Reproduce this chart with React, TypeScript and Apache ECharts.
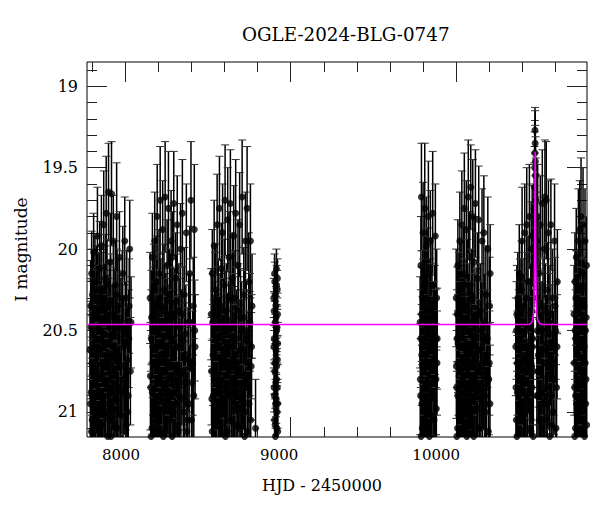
import React, { useEffect, useRef } from "react";
import * as echarts from "echarts";

// [HJD-2450000, I mag, error]
const season2017: number[][] = [
  [7788, 20.62, 0.30], [7792, 20.35, 0.28], [7795, 20.88, 0.34], [7798, 20.15, 0.26], [7801, 21.05, 0.38],
  [7804, 20.48, 0.29], [7807, 20.72, 0.31], [7810, 20.02, 0.24], [7813, 20.95, 0.36], [7816, 20.40, 0.28],
  [7819, 21.18, 0.40], [7822, 20.55, 0.30], [7826, 20.25, 0.27], [7829, 20.80, 0.33], [7833, 19.92, 0.30],
  [7836, 20.60, 0.31], [7840, 21.10, 0.39], [7843, 20.38, 0.28], [7847, 20.12, 0.29], [7850, 20.90, 0.35],
  [7854, 20.50, 0.30], [7857, 19.98, 0.31], [7861, 20.70, 0.32], [7864, 21.25, 0.42], [7868, 20.30, 0.28],
  [7871, 19.85, 0.33], [7875, 20.58, 0.30], [7878, 20.95, 0.37], [7882, 20.18, 0.27], [7886, 19.78, 0.35],
  [7889, 20.45, 0.29], [7893, 21.02, 0.38], [7896, 20.66, 0.32], [7900, 19.65, 0.30], [7904, 20.35, 0.28],
  [7907, 20.85, 0.34], [7911, 20.08, 0.30], [7915, 21.15, 0.40], [7918, 19.66, 0.32], [7922, 20.52, 0.30],
  [7926, 20.78, 0.33], [7929, 19.95, 0.28], [7933, 20.42, 0.29], [7937, 21.08, 0.38], [7941, 20.22, 0.27],
  [7945, 20.62, 0.31], [7949, 19.80, 0.33], [7953, 20.98, 0.36], [7957, 20.35, 0.29], [7961, 20.70, 0.32],
  [7966, 20.05, 0.28], [7971, 21.20, 0.41], [7976, 20.48, 0.30], [7981, 20.88, 0.34], [7986, 20.15, 0.29],
  [7992, 20.60, 0.31], [7998, 19.95, 0.27], [8004, 20.78, 0.33], [8010, 20.30, 0.29], [8016, 21.00, 0.36],
  [8022, 20.55, 0.30], [8028, 20.00, 0.30], [8036, 20.45, 0.28],
  [7790, 20.95, 0.35], [7794, 20.48, 0.30], [7797, 21.12, 0.40], [7800, 20.70, 0.32], [7803, 20.28, 0.28],
  [7806, 21.22, 0.42], [7809, 20.82, 0.34], [7812, 20.58, 0.30], [7815, 21.05, 0.38], [7818, 20.20, 0.28],
  [7821, 20.90, 0.35], [7824, 21.30, 0.44], [7828, 20.65, 0.31], [7831, 20.42, 0.29], [7835, 21.02, 0.37],
  [7838, 20.78, 0.33], [7842, 20.30, 0.28], [7845, 21.18, 0.41], [7849, 20.62, 0.31], [7852, 20.88, 0.35],
  [7856, 20.25, 0.28], [7859, 21.08, 0.39], [7863, 20.52, 0.30], [7866, 20.95, 0.36], [7870, 20.72, 0.32],
  [7873, 21.28, 0.43], [7877, 20.38, 0.29], [7880, 20.82, 0.34], [7884, 21.00, 0.37], [7888, 20.58, 0.30],
  [7891, 20.22, 0.28], [7895, 21.15, 0.40], [7898, 20.90, 0.35], [7902, 20.48, 0.30], [7906, 21.05, 0.38],
  [7909, 20.70, 0.32], [7913, 20.32, 0.29], [7917, 20.85, 0.34], [7920, 21.25, 0.42], [7924, 20.60, 0.31],
  [7928, 20.98, 0.36], [7931, 20.40, 0.29], [7935, 20.75, 0.33], [7939, 21.18, 0.41], [7943, 20.50, 0.30],
  [7947, 20.92, 0.35], [7951, 20.28, 0.28], [7955, 21.10, 0.39], [7959, 20.65, 0.31], [7963, 20.85, 0.34],
  [7968, 20.45, 0.30], [7973, 21.02, 0.37], [7978, 20.72, 0.32], [7983, 20.30, 0.29], [7988, 21.20, 0.42],
  [7995, 20.80, 0.34], [8001, 20.50, 0.30], [8007, 21.08, 0.39], [8013, 20.68, 0.32], [8019, 20.90, 0.35],
  [8025, 20.35, 0.29], [8032, 20.75, 0.33],
];

const season2018: number[][] = [
  [8151, 20.30, 0.28], [8155, 20.85, 0.35], [8158, 20.55, 0.30], [8162, 21.10, 0.40], [8165, 20.05, 0.27],
  [8169, 20.70, 0.32], [8172, 20.40, 0.29], [8176, 21.22, 0.42], [8179, 19.95, 0.30], [8183, 20.62, 0.31],
  [8187, 20.20, 0.28], [8190, 20.95, 0.36], [8194, 19.80, 0.32], [8198, 20.48, 0.30], [8201, 21.05, 0.38],
  [8205, 20.15, 0.27], [8209, 20.75, 0.33], [8212, 19.70, 0.33], [8216, 20.35, 0.29], [8220, 20.90, 0.35],
  [8223, 20.58, 0.31], [8227, 19.88, 0.30], [8231, 21.15, 0.40], [8235, 20.25, 0.28], [8238, 20.68, 0.32],
  [8242, 19.68, 0.34], [8246, 20.45, 0.30], [8250, 20.98, 0.37], [8254, 20.10, 0.28], [8258, 20.80, 0.34],
  [8262, 19.75, 0.35], [8266, 20.52, 0.30], [8270, 21.25, 0.42], [8274, 20.32, 0.29], [8278, 19.95, 0.31],
  [8282, 20.72, 0.33], [8286, 20.05, 0.28], [8290, 21.00, 0.38], [8294, 19.72, 0.32], [8298, 20.42, 0.30],
  [8302, 20.88, 0.35], [8306, 20.18, 0.28], [8310, 20.60, 0.31], [8315, 19.85, 0.30], [8320, 21.12, 0.40],
  [8325, 20.38, 0.29], [8330, 20.78, 0.33], [8335, 20.00, 0.28], [8340, 20.55, 0.30], [8346, 19.78, 0.33],
  [8352, 20.92, 0.36], [8358, 20.28, 0.29], [8364, 20.65, 0.32], [8370, 19.90, 0.30], [8377, 21.05, 0.38],
  [8384, 20.45, 0.30], [8391, 20.15, 0.29], [8398, 19.70, 0.36], [8405, 20.82, 0.34], [8412, 20.35, 0.30],
  [8418, 19.88, 0.40], [8423, 20.60, 0.32],
  [8153, 20.78, 0.33], [8157, 21.15, 0.40], [8160, 20.42, 0.29], [8164, 20.88, 0.35], [8167, 20.60, 0.31],
  [8171, 21.25, 0.42], [8174, 20.25, 0.28], [8178, 20.95, 0.36], [8181, 20.50, 0.30], [8185, 21.05, 0.38],
  [8189, 20.72, 0.32], [8192, 20.35, 0.29], [8196, 21.18, 0.41], [8200, 20.82, 0.34], [8203, 20.58, 0.30],
  [8207, 21.00, 0.37], [8211, 20.30, 0.28], [8214, 20.90, 0.35], [8218, 21.28, 0.43], [8222, 20.65, 0.31],
  [8225, 20.45, 0.30], [8229, 20.98, 0.36], [8233, 20.75, 0.33], [8237, 21.12, 0.40], [8240, 20.38, 0.29],
  [8244, 20.85, 0.34], [8248, 20.60, 0.31], [8252, 21.22, 0.42], [8256, 20.48, 0.30], [8260, 20.92, 0.35],
  [8264, 20.70, 0.32], [8268, 20.28, 0.28], [8272, 21.05, 0.38], [8276, 20.80, 0.34], [8280, 20.55, 0.30],
  [8284, 21.15, 0.40], [8288, 20.40, 0.29], [8292, 20.88, 0.35], [8296, 20.62, 0.31], [8300, 21.30, 0.44],
  [8304, 20.72, 0.32], [8308, 20.95, 0.36], [8312, 20.32, 0.29], [8317, 21.08, 0.39], [8322, 20.60, 0.31],
  [8327, 20.90, 0.35], [8332, 20.48, 0.30], [8337, 21.20, 0.42], [8343, 20.75, 0.33], [8349, 20.40, 0.29],
  [8355, 21.00, 0.37], [8361, 20.82, 0.34], [8367, 20.52, 0.30], [8373, 21.12, 0.40], [8380, 20.68, 0.32],
  [8387, 20.95, 0.36], [8394, 20.45, 0.30], [8401, 21.05, 0.38], [8408, 20.70, 0.32], [8415, 20.90, 0.35],
  [8421, 20.50, 0.31],
];

const season2019: number[][] = [
  [8520, 20.40, 0.28], [8524, 20.92, 0.36], [8527, 20.15, 0.27], [8531, 20.65, 0.31], [8534, 21.18, 0.40],
  [8538, 19.98, 0.28], [8541, 20.50, 0.30], [8545, 20.82, 0.34], [8548, 20.25, 0.28], [8552, 21.05, 0.38],
  [8556, 19.85, 0.31], [8559, 20.58, 0.30], [8563, 20.35, 0.29], [8567, 20.95, 0.36], [8570, 19.75, 0.32],
  [8574, 20.45, 0.30], [8578, 21.22, 0.42], [8582, 20.12, 0.28], [8585, 20.70, 0.32], [8589, 19.90, 0.30],
  [8593, 20.52, 0.30], [8597, 21.00, 0.37], [8600, 20.22, 0.28], [8604, 19.70, 0.34], [8608, 20.78, 0.33],
  [8612, 20.38, 0.29], [8616, 21.12, 0.40], [8620, 19.82, 0.32], [8624, 20.60, 0.31], [8628, 20.05, 0.28],
  [8632, 20.88, 0.35], [8636, 19.72, 0.33], [8640, 20.48, 0.30], [8644, 21.28, 0.43], [8648, 20.18, 0.28],
  [8652, 20.68, 0.32], [8656, 19.92, 0.31], [8660, 20.95, 0.37], [8664, 20.30, 0.29], [8668, 19.78, 0.33],
  [8672, 20.55, 0.30], [8677, 21.08, 0.39], [8682, 20.10, 0.28], [8687, 20.75, 0.33], [8692, 19.85, 0.32],
  [8697, 20.42, 0.30], [8702, 20.98, 0.36], [8707, 19.68, 0.35], [8712, 20.62, 0.31], [8717, 20.28, 0.29],
  [8722, 21.15, 0.40], [8727, 19.95, 0.30], [8732, 20.50, 0.30], [8737, 19.75, 0.38], [8742, 20.85, 0.34],
  [8747, 20.20, 0.30], [8752, 20.58, 0.32], [8757, 19.95, 0.35], [8762, 20.72, 0.33], [8767, 20.35, 0.32],
  [8788, 21.10, 0.30],
  [8522, 20.75, 0.33], [8526, 21.12, 0.40], [8529, 20.45, 0.30], [8533, 20.90, 0.35], [8536, 20.62, 0.31],
  [8540, 21.25, 0.42], [8543, 20.30, 0.28], [8547, 20.98, 0.36], [8550, 20.55, 0.30], [8554, 21.08, 0.39],
  [8558, 20.78, 0.33], [8561, 20.40, 0.29], [8565, 21.20, 0.42], [8569, 20.85, 0.34], [8572, 20.60, 0.31],
  [8576, 21.00, 0.37], [8580, 20.35, 0.29], [8584, 20.92, 0.35], [8587, 21.30, 0.44], [8591, 20.68, 0.32],
  [8595, 20.48, 0.30], [8599, 20.95, 0.36], [8602, 20.72, 0.32], [8606, 21.15, 0.40], [8610, 20.42, 0.29],
  [8614, 20.88, 0.35], [8618, 20.58, 0.31], [8622, 21.22, 0.42], [8626, 20.50, 0.30], [8630, 20.90, 0.35],
  [8634, 20.75, 0.33], [8638, 20.30, 0.28], [8642, 21.05, 0.38], [8646, 20.82, 0.34], [8650, 20.60, 0.31],
  [8654, 21.18, 0.41], [8658, 20.45, 0.30], [8662, 20.85, 0.34], [8666, 20.65, 0.31], [8670, 21.28, 0.43],
  [8674, 20.70, 0.32], [8679, 20.98, 0.36], [8684, 20.38, 0.29], [8689, 21.10, 0.39], [8694, 20.62, 0.31],
  [8699, 20.92, 0.35], [8704, 20.50, 0.30], [8709, 21.22, 0.42], [8714, 20.78, 0.33], [8719, 20.42, 0.29],
  [8724, 21.00, 0.37], [8729, 20.85, 0.34], [8734, 20.55, 0.30], [8739, 21.12, 0.40], [8744, 20.70, 0.32],
  [8749, 20.95, 0.36], [8754, 20.45, 0.30], [8759, 21.05, 0.38], [8764, 20.60, 0.32],
];

const season2020: number[][] = [
  [8898, 20.30, 0.12], [8900, 20.85, 0.15], [8901, 20.55, 0.13], [8903, 21.05, 0.16], [8904, 20.20, 0.12],
  [8905, 20.70, 0.14], [8907, 20.45, 0.13], [8908, 21.15, 0.17], [8909, 20.95, 0.15], [8911, 20.35, 0.12],
  [8912, 20.62, 0.14], [8914, 20.12, 0.12], [8915, 20.80, 0.15], [8916, 20.50, 0.13], [8918, 21.00, 0.16],
  [8919, 20.25, 0.12], [8920, 20.68, 0.14], [8921, 20.40, 0.13], [8922, 21.12, 0.17],
  [8899, 20.60, 0.13], [8900, 20.38, 0.12], [8902, 20.90, 0.15], [8903, 20.15, 0.12], [8904, 20.75, 0.14],
  [8906, 21.08, 0.16], [8907, 20.28, 0.12], [8908, 20.58, 0.13], [8910, 20.82, 0.15], [8911, 21.20, 0.17],
  [8912, 20.42, 0.13], [8913, 20.92, 0.15], [8915, 20.22, 0.12], [8916, 20.72, 0.14], [8917, 21.10, 0.16],
  [8918, 20.48, 0.13], [8919, 20.85, 0.15], [8920, 20.18, 0.12], [8921, 20.95, 0.15], [8922, 20.58, 0.13],
];

const season2022: number[][] = [
  [9782, 20.45, 0.28], [9785, 20.90, 0.35], [9787, 20.10, 0.30], [9790, 19.68, 0.33], [9792, 20.65, 0.31],
  [9795, 21.10, 0.39], [9797, 20.30, 0.29], [9800, 19.90, 0.31], [9802, 20.75, 0.33], [9805, 20.50, 0.30],
  [9807, 21.20, 0.42], [9810, 19.75, 0.40], [9812, 20.20, 0.28], [9815, 20.85, 0.34], [9818, 20.40, 0.29],
  [9820, 19.98, 0.30], [9823, 21.02, 0.38], [9826, 20.60, 0.31], [9829, 20.15, 0.28], [9832, 19.80, 0.34],
  [9835, 20.70, 0.32], [9838, 21.15, 0.40], [9841, 20.35, 0.29], [9844, 19.95, 0.31], [9847, 20.55, 0.30],
  [9850, 20.88, 0.35], [9854, 20.22, 0.29], [9858, 19.78, 0.38], [9862, 20.62, 0.31], [9866, 21.05, 0.38],
  [9870, 20.40, 0.30], [9874, 19.92, 0.32], [9878, 20.80, 0.34], [9882, 20.30, 0.30], [9885, 20.55, 0.31],
  [9783, 20.80, 0.34], [9786, 20.55, 0.30], [9788, 21.15, 0.40], [9791, 20.40, 0.29], [9793, 20.95, 0.36],
  [9796, 20.60, 0.31], [9798, 21.25, 0.42], [9801, 20.35, 0.29], [9803, 20.88, 0.35], [9806, 20.70, 0.32],
  [9808, 20.20, 0.28], [9811, 21.05, 0.38], [9813, 20.50, 0.30], [9816, 20.98, 0.36], [9819, 20.65, 0.31],
  [9821, 21.20, 0.42], [9824, 20.30, 0.29], [9827, 20.85, 0.34], [9830, 20.58, 0.30], [9833, 21.10, 0.39],
  [9836, 20.45, 0.30], [9839, 20.92, 0.35], [9842, 20.72, 0.32], [9845, 21.28, 0.43], [9848, 20.38, 0.29],
  [9852, 20.90, 0.35], [9856, 20.60, 0.31], [9860, 21.02, 0.37], [9864, 20.50, 0.30], [9868, 20.80, 0.34],
  [9872, 21.18, 0.41], [9876, 20.55, 0.30], [9880, 20.98, 0.36], [9884, 20.70, 0.32],
];

const season2023: number[][] = [
  [10000, 20.30, 0.30], [10003, 20.85, 0.35], [10005, 20.55, 0.30], [10008, 21.10, 0.40], [10010, 20.10, 0.28],
  [10013, 20.70, 0.32], [10016, 20.40, 0.30], [10019, 21.20, 0.42], [10022, 19.95, 0.30], [10025, 20.60, 0.31],
  [10028, 20.25, 0.29], [10031, 20.92, 0.36], [10034, 19.85, 0.33], [10037, 20.48, 0.30], [10040, 21.05, 0.38],
  [10043, 20.15, 0.28], [10046, 20.78, 0.33], [10049, 19.75, 0.34], [10052, 20.35, 0.29], [10055, 20.95, 0.36],
  [10058, 20.58, 0.31], [10061, 19.88, 0.30], [10064, 21.15, 0.40], [10067, 20.22, 0.28], [10070, 20.68, 0.32],
  [10073, 19.68, 0.35], [10076, 20.45, 0.30], [10079, 21.00, 0.37], [10082, 20.05, 0.28], [10085, 20.82, 0.34],
  [10088, 19.62, 0.26], [10091, 20.52, 0.30], [10094, 21.25, 0.42], [10097, 20.30, 0.29], [10100, 19.80, 0.35],
  [10104, 20.72, 0.33], [10108, 20.08, 0.28], [10112, 20.98, 0.37], [10116, 19.72, 0.33], [10120, 20.42, 0.30],
  [10124, 20.88, 0.35], [10128, 20.18, 0.28], [10132, 20.62, 0.31], [10136, 19.82, 0.33], [10141, 21.10, 0.40],
  [10146, 20.38, 0.29], [10151, 20.75, 0.33], [10156, 19.95, 0.32], [10161, 20.55, 0.30], [10167, 19.90, 0.35],
  [10173, 20.90, 0.36], [10179, 20.28, 0.30], [10185, 20.65, 0.32], [10191, 20.00, 0.32], [10197, 20.80, 0.34],
  [10202, 20.35, 0.30], [10205, 20.15, 0.30],
  [10001, 20.72, 0.32], [10004, 21.15, 0.40], [10006, 20.40, 0.29], [10009, 20.90, 0.35], [10011, 20.58, 0.30],
  [10014, 21.25, 0.42], [10017, 20.30, 0.28], [10020, 20.98, 0.36], [10023, 20.50, 0.30], [10026, 21.05, 0.38],
  [10029, 20.75, 0.33], [10032, 20.42, 0.29], [10035, 21.20, 0.42], [10038, 20.85, 0.34], [10041, 20.60, 0.31],
  [10044, 21.00, 0.37], [10047, 20.35, 0.29], [10050, 20.92, 0.35], [10053, 21.30, 0.44], [10056, 20.68, 0.32],
  [10059, 20.45, 0.30], [10062, 20.95, 0.36], [10065, 20.72, 0.32], [10068, 21.12, 0.40], [10071, 20.38, 0.29],
  [10074, 20.88, 0.35], [10077, 20.60, 0.31], [10080, 21.22, 0.42], [10083, 20.50, 0.30], [10086, 20.90, 0.35],
  [10089, 20.78, 0.33], [10092, 20.28, 0.28], [10095, 21.05, 0.38], [10098, 20.82, 0.34], [10102, 20.58, 0.30],
  [10106, 21.15, 0.40], [10110, 20.45, 0.30], [10114, 20.85, 0.34], [10118, 20.65, 0.31], [10122, 21.28, 0.43],
  [10126, 20.70, 0.32], [10130, 20.98, 0.36], [10134, 20.40, 0.29], [10139, 21.10, 0.39], [10144, 20.62, 0.31],
  [10149, 20.92, 0.35], [10154, 20.50, 0.30], [10159, 21.20, 0.42], [10164, 20.78, 0.33], [10170, 20.45, 0.30],
  [10176, 21.00, 0.37], [10182, 20.85, 0.34], [10188, 20.55, 0.30], [10194, 21.12, 0.40], [10200, 20.70, 0.32],
  [10204, 20.95, 0.36],
];

const season2024: number[][] = [
  [10360, 20.60, 0.30], [10363, 21.05, 0.38], [10366, 20.40, 0.30], [10369, 20.88, 0.35], [10372, 20.30, 0.28],
  [10375, 21.18, 0.40], [10378, 20.55, 0.30], [10381, 20.15, 0.30], [10384, 20.75, 0.33], [10387, 20.45, 0.30],
  [10390, 21.00, 0.37], [10394, 20.25, 0.30], [10398, 19.95, 0.33], [10402, 20.68, 0.32], [10406, 21.22, 0.42],
  [10410, 20.35, 0.29], [10414, 19.90, 0.30], [10418, 20.82, 0.34], [10422, 20.50, 0.30], [10426, 19.85, 0.35],
  [10430, 20.95, 0.36], [10434, 20.20, 0.28], [10438, 20.62, 0.31], [10442, 19.80, 0.32], [10446, 21.10, 0.40],
  [10450, 20.40, 0.30], [10453, 20.00, 0.29], [10456, 20.72, 0.33], [10459, 19.92, 0.31], [10462, 20.55, 0.30],
  [10465, 21.15, 0.40], [10467, 20.10, 0.28], [10469, 20.05, 0.30], [10470, 19.90, 0.30], [10472, 19.75, 0.28],
  [10473, 19.62, 0.25], [10474, 19.50, 0.22], [10475, 19.41, 0.20], [10476, 19.27, 0.14], [10477, 19.35, 0.20],
  [10478, 19.46, 0.22], [10479, 19.55, 0.24], [10481, 19.70, 0.26], [10483, 19.82, 0.28], [10485, 19.95, 0.30],
  [10488, 20.30, 0.30], [10492, 19.80, 0.32], [10496, 20.65, 0.32], [10500, 20.15, 0.28], [10504, 21.05, 0.38],
  [10508, 19.85, 0.30], [10512, 20.50, 0.30], [10516, 20.88, 0.35], [10520, 19.72, 0.33], [10524, 20.35, 0.29],
  [10528, 21.20, 0.42], [10532, 20.00, 0.30], [10536, 19.68, 0.35], [10540, 20.62, 0.31], [10544, 19.70, 0.36],
  [10548, 20.95, 0.36], [10552, 20.25, 0.29], [10557, 19.90, 0.32], [10562, 20.75, 0.33], [10567, 20.40, 0.30],
  [10572, 19.85, 0.28], [10577, 21.08, 0.39], [10582, 20.30, 0.30], [10588, 20.70, 0.32], [10594, 19.95, 0.35],
  [10600, 20.50, 0.30], [10606, 20.85, 0.34], [10611, 20.20, 0.32],
  [10361, 20.85, 0.34], [10364, 20.50, 0.30], [10367, 21.15, 0.40], [10370, 20.70, 0.32], [10373, 20.42, 0.29],
  [10376, 20.95, 0.36], [10379, 20.62, 0.31], [10382, 21.25, 0.42], [10385, 20.35, 0.29], [10388, 20.88, 0.35],
  [10392, 20.58, 0.30], [10396, 21.05, 0.38], [10400, 20.75, 0.33], [10404, 20.45, 0.30], [10408, 21.18, 0.41],
  [10412, 20.82, 0.34], [10416, 20.60, 0.31], [10420, 21.00, 0.37], [10424, 20.30, 0.28], [10428, 20.90, 0.35],
  [10432, 21.28, 0.43], [10436, 20.68, 0.32], [10440, 20.48, 0.30], [10444, 20.98, 0.36], [10448, 20.72, 0.32],
  [10452, 21.12, 0.40], [10455, 20.38, 0.29], [10458, 20.85, 0.34], [10461, 20.60, 0.31], [10464, 21.22, 0.42],
  [10466, 20.75, 0.33], [10487, 20.90, 0.35],
  [10490, 20.50, 0.30], [10494, 20.90, 0.35], [10498, 20.75, 0.33], [10502, 21.20, 0.42], [10506, 20.42, 0.29],
  [10510, 20.88, 0.35], [10514, 20.62, 0.31], [10518, 21.10, 0.39], [10522, 20.50, 0.30], [10526, 20.95, 0.36],
  [10530, 20.70, 0.32], [10534, 21.30, 0.44], [10538, 20.38, 0.29], [10542, 20.85, 0.34], [10546, 20.58, 0.30],
  [10550, 21.05, 0.38], [10555, 20.78, 0.33], [10560, 20.45, 0.30], [10565, 21.15, 0.40], [10570, 20.65, 0.31],
  [10575, 20.90, 0.35], [10580, 20.52, 0.30], [10585, 21.00, 0.37], [10591, 20.80, 0.34], [10597, 20.35, 0.30],
  [10603, 21.10, 0.39], [10609, 20.60, 0.32],
];

const season2025: number[][] = [
  [10712, 20.40, 0.30], [10715, 20.85, 0.35], [10717, 20.20, 0.30], [10720, 21.10, 0.40], [10722, 20.55, 0.30],
  [10725, 20.05, 0.30], [10727, 20.95, 0.36], [10730, 20.30, 0.29], [10732, 21.20, 0.42], [10735, 20.65, 0.32],
  [10738, 19.95, 0.32], [10740, 20.45, 0.30], [10743, 20.80, 0.34], [10746, 19.88, 0.30], [10748, 21.05, 0.38],
  [10751, 20.25, 0.29], [10754, 19.80, 0.36], [10757, 20.60, 0.31], [10760, 20.90, 0.35], [10763, 20.15, 0.30],
  [10766, 19.85, 0.35], [10769, 20.70, 0.33], [10772, 20.35, 0.30], [10775, 21.15, 0.40], [10778, 19.95, 0.32],
  [10781, 20.50, 0.30], [10784, 20.80, 0.34], [10787, 20.10, 0.30],
  [10713, 20.70, 0.32], [10716, 21.15, 0.40], [10718, 20.50, 0.30], [10721, 20.90, 0.35], [10723, 20.30, 0.29],
  [10726, 21.25, 0.42], [10728, 20.62, 0.31], [10731, 20.85, 0.34], [10733, 20.45, 0.30], [10736, 21.05, 0.38],
  [10739, 20.72, 0.32], [10741, 20.22, 0.28], [10744, 21.12, 0.40], [10747, 20.58, 0.30], [10749, 20.92, 0.35],
  [10752, 20.40, 0.29], [10755, 21.20, 0.42], [10758, 20.75, 0.33], [10761, 20.50, 0.30], [10764, 21.00, 0.37],
  [10767, 20.35, 0.29], [10770, 20.88, 0.35], [10773, 20.60, 0.31], [10776, 21.30, 0.44], [10779, 20.70, 0.32],
  [10782, 20.95, 0.36], [10785, 20.42, 0.30], [10788, 21.08, 0.39],
];

// PSPL model curve: [HJD-2450000, I mag]
const modelCurve: number[][] = [
  [7770, 20.463], [10440, 20.463], [10452, 20.455], [10460, 20.44], [10465, 20.41], [10468, 20.36],
  [10470, 20.30], [10472, 20.18], [10473.5, 20.0], [10474.5, 19.8], [10475.5, 19.6], [10476.3, 19.45],
  [10477, 19.40], [10477.7, 19.45], [10478.5, 19.6], [10479.5, 19.8], [10480.5, 20.0], [10482, 20.18],
  [10484, 20.30], [10486, 20.36], [10489, 20.41], [10494, 20.44], [10502, 20.455], [10514, 20.463],
  [10790, 20.463],
];

const xMajorTicks = [8000, 9000, 10000];
const xMinorTicks = [7800, 8000, 8200, 8400, 8600, 8800, 9000, 9200, 9400, 9600, 9800, 10000, 10200, 10400, 10600];
const yMajorTicks = [19, 19.5, 20, 20.5, 21];
const yMinorTicks = [18.9, 19.0, 19.1, 19.2, 19.3, 19.4, 19.5, 19.6, 19.7, 19.8, 19.9, 20.0, 20.1, 20.2, 20.3,
  20.4, 20.5, 20.6, 20.7, 20.8, 20.9, 21.0, 21.1];

const title = "OGLE-2024-BLG-0747";
const xName = "HJD - 2450000";
const yName = "I magnitude";

const X_MIN = 7770;
const X_MAX = 10790;
const Y_MIN = 18.851;
const Y_MAX = 21.154;

const FONT = "DejaVu Serif";

export default function App() {
  const ref = useRef<HTMLDivElement>(null);

  useEffect(() => {
    if (!ref.current) return;
    const chart = echarts.init(ref.current, null, { renderer: "svg" });
    const allData = [
      ...season2017, ...season2018, ...season2019, ...season2020,
      ...season2022, ...season2023, ...season2024, ...season2025,
    ];
    const tickColor = "#222";
    const xAxisBase = (pos: string, ticks: number[], len: number, extra: any = {}) => ({
      type: "value",
      min: X_MIN,
      max: X_MAX,
      position: pos,
      axisLine: { show: false },
      splitLine: { show: false },
      axisTick: { show: true, inside: true, length: len, customValues: ticks, lineStyle: { color: tickColor, width: 1 } },
      axisLabel: { show: false },
      ...extra,
    });
    const yAxisBase = (pos: string, ticks: number[], len: number, extra: any = {}) => ({
      type: "value",
      min: Y_MIN,
      max: Y_MAX,
      inverse: true,
      position: pos,
      axisLine: { show: false },
      splitLine: { show: false },
      axisTick: { show: true, inside: true, length: len, customValues: ticks, lineStyle: { color: tickColor, width: 1 } },
      axisLabel: { show: false },
      ...extra,
    });
    const labelShift: Record<string, number> = { "8000": 8, "9000": 23, "10000": 40 };
    const rich: Record<string, any> = {};
    xMajorTicks.forEach((v) => {
      rich["s" + v] = {
        fontFamily: FONT,
        fontSize: 15,
        color: "#000",
        padding: [0, labelShift[String(v)] || 0, 0, 0],
      };
    });

    chart.setOption({
      animation: false,
      backgroundColor: "#fff",
      title: {
        text: title,
        left: 237,
        top: 20,
        textStyle: { fontFamily: FONT, fontSize: 18.3, fontWeight: "normal", color: "#000" },
      },
      grid: {
        left: 87,
        top: 62,
        right: 13,
        bottom: 75,
        show: true,
        borderColor: "#000",
        borderWidth: 1,
        backgroundColor: "transparent",
      },
      xAxis: [
        xAxisBase("bottom", xMajorTicks, 20, {
          name: xName,
          nameLocation: "middle",
          nameGap: 40,
          nameTextStyle: { fontFamily: FONT, fontSize: 16, color: "#000", padding: [0, 30, 0, 0] },
          axisLabel: {
            show: true,
            customValues: xMajorTicks,
            margin: 10,
            fontFamily: FONT,
            fontSize: 15,
            color: "#000",
            formatter: (v: number) => `{s${v}|${v}}`,
            rich,
          },
        }),
        xAxisBase("bottom", xMinorTicks, 10),
        xAxisBase("top", xMajorTicks, 20),
        xAxisBase("top", xMinorTicks, 10),
      ],
      yAxis: [
        yAxisBase("left", yMajorTicks, 20, {
          name: yName,
          nameLocation: "middle",
          nameGap: 58,
          nameTextStyle: { fontFamily: FONT, fontSize: 17, color: "#000" },
          axisLabel: {
            show: true,
            customValues: yMajorTicks,
            margin: 9,
            fontFamily: FONT,
            fontSize: 16,
            color: "#000",
          },
        }),
        yAxisBase("left", yMinorTicks, 10),
        yAxisBase("right", yMajorTicks, 20),
        yAxisBase("right", yMinorTicks, 10),
      ],
      series: [
        {
          type: "custom",
          xAxisIndex: 0,
          yAxisIndex: 0,
          clip: true,
          encode: { x: 0, y: 1 },
          data: allData,
          renderItem: (params: any, api: any) => {
            const x = api.value(0);
            const m = api.value(1);
            const e = api.value(2);
            const top = api.coord([x, m - e]);
            const bot = api.coord([x, m + e]);
            const cap = 4;
            const style = { stroke: "#000", lineWidth: 1.5, fill: null };
            return {
              type: "group",
              children: [
                { type: "line", shape: { x1: top[0], y1: top[1], x2: bot[0], y2: bot[1] }, style },
                { type: "line", shape: { x1: top[0] - cap, y1: top[1], x2: top[0] + cap, y2: top[1] }, style: { stroke: "#333", lineWidth: 1 } },
                { type: "line", shape: { x1: bot[0] - cap, y1: bot[1], x2: bot[0] + cap, y2: bot[1] }, style: { stroke: "#333", lineWidth: 1 } },
              ],
            };
          },
          z: 2,
        },
        {
          type: "scatter",
          xAxisIndex: 0,
          yAxisIndex: 0,
          clip: true,
          symbol: "circle",
          symbolSize: 7,
          itemStyle: { color: "#000" },
          data: allData.map((d) => [d[0], d[1]]),
          z: 3,
        },
        {
          type: "line",
          xAxisIndex: 0,
          yAxisIndex: 0,
          showSymbol: false,
          clip: true,
          lineStyle: { color: "#ff00ff", width: 1.5 },
          data: modelCurve,
          z: 4,
        },
      ],
    });
    return () => chart.dispose();
  }, []);

  return <div ref={ref} style={{ width: 600, height: 512, margin: -8 }} />;
}
